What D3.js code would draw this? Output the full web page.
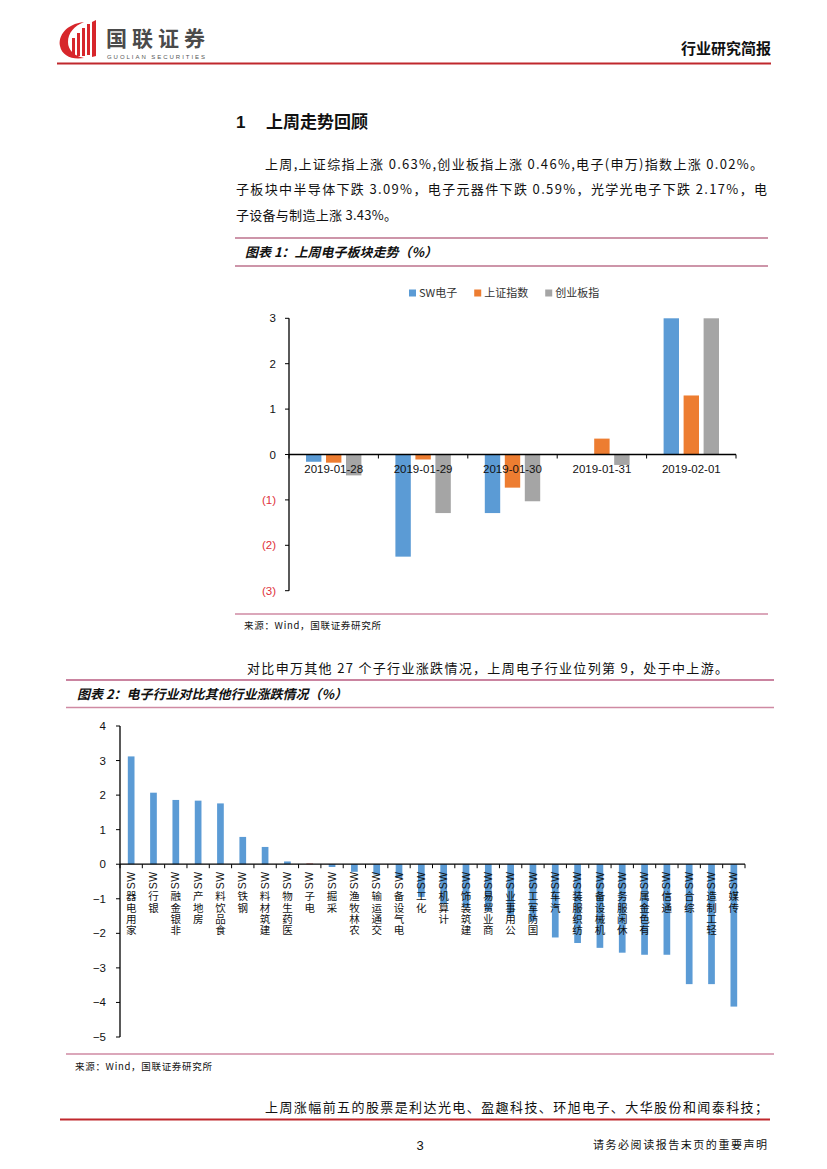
<!DOCTYPE html>
<html><head><meta charset="utf-8">
<script src="https://cdn.jsdelivr.net/npm/d3@7"></script>
<style>
body{margin:0;background:#fff}
svg{display:block}
text{font-family:"Noto Sans CJK SC","Liberation Sans",sans-serif;fill:#111}
.num{font-family:"Liberation Sans",Arial,sans-serif}
</style></head>
<body><svg id="page" width="827" height="1169"></svg>
<script>
// ---------- data: chart 1 ----------
const dates1 = ["2019-01-28","2019-01-29","2019-01-30","2019-01-31","2019-02-01"];
const series1 = ["SW电子","上证指数","创业板指"];
const swDianzi = [-0.16,-2.25,-1.29,-0.01,3.83];
const shangzheng = [-0.18,-0.11,-0.73,0.35,1.30];
const chuangye = [-0.46,-1.29,-1.03,-0.23,3.54];
const ticks1 = [3,2,1,0,-1,-2,-3];
const tickLabels1 = ["3","2","1","0","(1)","(2)","(3)"];
const colors1 = ["#5B9BD5","#ED7D31","#A5A5A5"];

// ---------- data: chart 2 ----------
const industries = ["家用电器SW","银行SW","非银金融SW","房地产SW","食品饮料SW","钢铁SW","建筑材料SW","医药生物SW","电子SW","采掘SW","农林牧渔SW","交通运输SW","电气设备SW","化工SW","计算机SW","建筑装饰SW","商业贸易SW","公用事业SW","国防军工SW","汽车SW","纺织服装SW","机械设备SW","休闲服务SW","有色金属SW","通信SW","综合SW","轻工制造SW","传媒SW"];
const industryValues = [3.12,2.07,1.86,1.84,1.76,0.79,0.50,0.08,0.02,-0.08,-0.22,-0.30,-0.40,-0.95,-1.15,-1.25,-1.35,-1.50,-1.65,-2.12,-2.28,-2.42,-2.56,-2.62,-2.62,-3.47,-3.47,-4.12];
const ticks2 = [4,3,2,1,0,-1,-2,-3,-4,-5];

const svg = d3.select("#page");

// ---------- header ----------
const logo = svg.append("g");
logo.append("path").attr("d","M84,22 C66,24 58,36 60,46 C62,56 72,60 84,58 C74,56 68,50 68,42 C68,33 74,26 84,22 Z").attr("fill","#D7262B");
[[72,38,3,18],[77,33,3,23],[82,28,3,28],[87,24,3,31]].forEach(r=>{
  logo.append("rect").attr("x",r[0]).attr("y",r[1]).attr("width",r[2]).attr("height",r[3]).attr("fill","#D7262B");
});
logo.append("path").attr("d","M92,22 L96,20 L96,56 L92,57 Z").attr("fill","#D7262B");
svg.append("text").attr("x",106).attr("y",46).text("国联证券").attr("textLength",99)
  .style("font-size","21px").style("font-weight","bold").style("fill","#4a4a4a");
svg.append("text").attr("x",107).attr("y",58.6).attr("class","num").text("GUOLIAN SECURITIES")
  .attr("textLength",98).style("font-size","6px").style("fill","#555");
svg.append("line").attr("x1",57).attr("x2",771).attr("y1",63.5).attr("y2",63.5)
  .attr("stroke","#C0282D").attr("stroke-width",2);
svg.append("text").attr("x",771).attr("y",54).attr("text-anchor","end").text("行业研究简报")
  .style("font-size","15px").style("font-weight","bold");

// ---------- section heading & paragraph ----------
svg.append("text").attr("x",236).attr("y",128).attr("class","num").text("1")
  .style("font-size","17px").style("font-weight","bold");
svg.append("text").attr("x",266).attr("y",128).text("上周走势回顾")
  .style("font-size","17px").style("font-weight","bold");
svg.append("text").attr("x",265).attr("y",169).text("上周,上证综指上涨 0.63%,创业板指上涨 0.46%,电子(申万)指数上涨 0.02%。")
  .attr("textLength",498).attr("lengthAdjust","spacing").style("font-size","13px");
svg.append("text").attr("x",236).attr("y",194).text("子板块中半导体下跌 3.09%，电子元器件下跌 0.59%，光学光电子下跌 2.17%，电")
  .attr("textLength",531).attr("lengthAdjust","spacing").style("font-size","13px");
svg.append("text").attr("x",236).attr("y",220).text("子设备与制造上涨 3.43%。")
  .attr("textLength",161).attr("lengthAdjust","spacing").style("font-size","13px");

// ---------- chart 1 frame ----------
svg.append("line").attr("x1",235).attr("x2",768).attr("y1",238).attr("y2",238).attr("stroke","#9B2D55").attr("stroke-width",1.2);
svg.append("text").attr("x",245).attr("y",257).text("图表 1：上周电子板块走势（%）")
  .style("font-size","13px").style("font-weight","bold").style("font-style","italic");
svg.append("line").attr("x1",235).attr("x2",768).attr("y1",266).attr("y2",266).attr("stroke","#9B2D55").attr("stroke-width",1.2);
svg.append("line").attr("x1",235).attr("x2",768).attr("y1",614).attr("y2",614).attr("stroke","#CF8AA3").attr("stroke-width",1.6);
svg.append("text").attr("x",244).attr("y",629).text("来源：Wind，国联证券研究所").style("font-size","9.5px").attr("textLength",137);

// ---------- chart 1 ----------
const y1 = d3.scaleLinear().domain([-3,3]).range([590.7,318.3]).clamp(true);
const x0 = d3.scaleBand().domain(dates1).range([289,736]).padding(0);
const x1 = d3.scaleBand().domain(series1).range([0,x0.bandwidth()]).paddingInner(0.23).paddingOuter(0.85);
const seriesVals = [swDianzi,shangzheng,chuangye];
const c1 = svg.append("g");
seriesVals.forEach((vals,si)=>{
  c1.selectAll(null).data(vals).enter().append("rect")
    .attr("x",(d,i)=>x0(dates1[i])+x1(series1[si]))
    .attr("width",x1.bandwidth())
    .attr("y",d=>Math.min(y1(d),y1(0)))
    .attr("height",d=>Math.abs(y1(d)-y1(0)))
    .attr("fill",colors1[si]);
});
const ax1 = c1.append("g");
ax1.append("line").attr("x1",289).attr("x2",289).attr("y1",y1(3)).attr("y2",y1(-3)).attr("stroke","#000").attr("stroke-width",1.3);
ax1.append("line").attr("x1",289).attr("x2",736).attr("y1",y1(0)).attr("y2",y1(0)).attr("stroke","#000").attr("stroke-width",1.3);
ticks1.forEach((t,i)=>{
  ax1.append("line").attr("x1",285).attr("x2",289).attr("y1",y1(t)).attr("y2",y1(t)).attr("stroke","#000");
  ax1.append("text").attr("class","num").attr("x",276).attr("y",y1(t)+4).attr("text-anchor","end")
    .text(tickLabels1[i]).style("font-size","11.5px").style("fill",t<0?"#E0303A":"#111");
});
d3.range(dates1.length+1).forEach(i=>{
  const xx = 289 + i*x0.step();
  ax1.append("line").attr("x1",xx).attr("x2",xx).attr("y1",y1(0)).attr("y2",y1(0)+4).attr("stroke","#000");
});
dates1.forEach(d=>{
  ax1.append("text").attr("class","num").attr("x",x0(d)+x0.bandwidth()/2).attr("y",y1(0)+18)
    .attr("text-anchor","middle").text(d).style("font-size","11.5px");
});
const lg = svg.append("g");
let lx = 409;
series1.forEach((s,i)=>{
  lg.append("rect").attr("x",lx).attr("y",289.5).attr("width",7).attr("height",7).attr("fill",colors1[i]);
  const t = lg.append("text").attr("x",lx+10).attr("y",297).text(s).style("font-size","11px").style("fill","#333");
  lx += 10 + t.node().getComputedTextLength() + 17;
});

// ---------- chart 2 frame ----------
svg.append("text").attr("x",247).attr("y",673).text("对比申万其他 27 个子行业涨跌情况，上周电子行业位列第 9，处于中上游。")
  .attr("textLength",481).attr("lengthAdjust","spacing").style("font-size","13px");
svg.append("line").attr("x1",66).attr("x2",774).attr("y1",680).attr("y2",680).attr("stroke","#B85B80").attr("stroke-width",1.4);
svg.append("text").attr("x",77).attr("y",699).text("图表 2：电子行业对比其他行业涨跌情况（%）")
  .style("font-size","13px").style("font-weight","bold").style("font-style","italic");
svg.append("line").attr("x1",66).attr("x2",774).attr("y1",707.5).attr("y2",707.5).attr("stroke","#CF8AA3").attr("stroke-width",1.6);
svg.append("line").attr("x1",66).attr("x2",774).attr("y1",1054).attr("y2",1054).attr("stroke","#CF8AA3").attr("stroke-width",1.6);
svg.append("text").attr("x",75).attr("y",1070).text("来源：Wind，国联证券研究所").style("font-size","9.5px").attr("textLength",137);

// ---------- chart 2 ----------
const y2 = d3.scaleLinear().domain([-5,4]).range([1037,726]);
const x2 = d3.scaleBand().domain(industries).range([120,745]).paddingInner(0.7).paddingOuter(0.35);
const c2 = svg.append("g");
c2.selectAll(null).data(industryValues).enter().append("rect")
  .attr("x",(d,i)=>x2(industries[i]))
  .attr("width",x2.bandwidth())
  .attr("y",d=>Math.min(y2(d),y2(0)))
  .attr("height",d=>Math.max(0.6,Math.abs(y2(d)-y2(0))))
  .attr("fill",(d,i)=>industries[i]==="电子SW"?"#C0504D":"#5B9BD5");
const ax2 = c2.append("g");
ax2.append("line").attr("x1",120).attr("x2",120).attr("y1",y2(4)).attr("y2",y2(-5)).attr("stroke","#000").attr("stroke-width",1.3);
ax2.append("line").attr("x1",120).attr("x2",745).attr("y1",y2(0)).attr("y2",y2(0)).attr("stroke","#000").attr("stroke-width",1.3);
ticks2.forEach(t=>{
  ax2.append("line").attr("x1",116).attr("x2",120).attr("y1",y2(t)).attr("y2",y2(t)).attr("stroke","#000");
  ax2.append("text").attr("class","num").attr("x",106).attr("y",y2(t)+4).attr("text-anchor","end")
    .text(t<0?"\u2212"+Math.abs(t):String(t)).style("font-size","11.5px");
});
const x2start = x2.range()[0];
d3.range(industries.length+1).forEach(i=>{
  const xx = x2start + i*x2.step();
  ax2.append("line").attr("x1",xx).attr("x2",xx).attr("y1",y2(0)).attr("y2",y2(0)+4).attr("stroke","#000");
});
// vertical labels: whole label rotated -90 (reads upward), CJK glyphs turned back upright
const lblSize = 10.5;
industries.forEach(name=>{
  const cx = x2(name)+x2.bandwidth()/2;
  const top = y2(0)+7;
  const chars = name.split("");
  const isLatin = c=>/[A-Za-z]/.test(c);
  let cur = 0;
  const dys = chars.map(c=>{
    const target = isLatin(c) ? 0 : -(3.6 + lblSize/2);
    const d = target - cur; cur = target; return d.toFixed(2);
  });
  c2.append("text")
    .attr("transform",`translate(${cx+3.6},${top}) rotate(-90)`)
    .attr("text-anchor","end")
    .attr("rotate",chars.map(c=>isLatin(c)?0:90).join(" "))
    .attr("dy",dys.join(" "))
    .style("font-family",'"Liberation Sans","Noto Sans CJK SC",sans-serif')
    .style("font-size",lblSize+"px")
    .style("letter-spacing","0.6px")
    .text(name);
});

// ---------- footer ----------
svg.append("text").attr("x",265).attr("y",1112).text("上周涨幅前五的股票是利达光电、盈趣科技、环旭电子、大华股份和闻泰科技；")
  .attr("textLength",503).attr("lengthAdjust","spacing").style("font-size","13px");
svg.append("line").attr("x1",60).attr("x2",770).attr("y1",1119.5).attr("y2",1119.5).attr("stroke","#C0282D").attr("stroke-width",2);
svg.append("text").attr("class","num").attr("x",420).attr("y",1150).attr("text-anchor","middle").text("3").style("font-size","13px");
svg.append("text").attr("x",593).attr("y",1149).text("请务必阅读报告末页的重要声明")
  .attr("textLength",174).attr("lengthAdjust","spacing").style("font-size","11px");
</script></body></html>
